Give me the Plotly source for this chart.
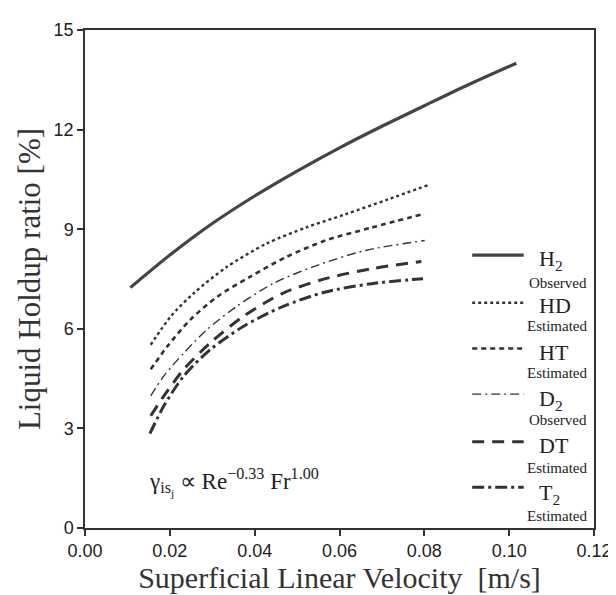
import plotly.graph_objects as go

# ---- data ----
h2_x = [0.0107, 0.02, 0.03, 0.04, 0.05, 0.06, 0.07, 0.08, 0.09, 0.1017]
h2_y = [7.24, 8.22, 9.17, 10.0, 10.75, 11.45, 12.1, 12.72, 13.33, 14.00]

hd_x = [0.0155, 0.0202, 0.0256, 0.0334, 0.0427, 0.0521, 0.0614, 0.0715, 0.0809]
hd_y = [5.52, 6.37, 7.07, 7.86, 8.56, 9.05, 9.45, 9.90, 10.33]

ht_x = [0.0155, 0.0194, 0.0248, 0.0311, 0.0388, 0.0474, 0.0567, 0.0676, 0.0801]
ht_y = [4.78, 5.47, 6.27, 6.96, 7.56, 8.16, 8.66, 9.05, 9.47]

d2_x = [0.0155, 0.0186, 0.0233, 0.0287, 0.0357, 0.0443, 0.0536, 0.0661, 0.0801]
d2_y = [3.98, 4.58, 5.27, 5.97, 6.67, 7.36, 7.86, 8.36, 8.66]

dt_x = [0.0155, 0.0186, 0.0233, 0.0295, 0.0373, 0.0466, 0.0567, 0.0676, 0.0793]
dt_y = [3.38, 3.98, 4.78, 5.57, 6.37, 7.07, 7.51, 7.81, 8.03]

t2_x = [0.0153, 0.0186, 0.0233, 0.0295, 0.0373, 0.0466, 0.0567, 0.0676, 0.0797]
t2_y = [2.84, 3.68, 4.58, 5.37, 6.07, 6.67, 7.11, 7.36, 7.51]

x_ticks = [0.00, 0.02, 0.04, 0.06, 0.08, 0.10, 0.12]
x_tick_labels = ["0.00", "0.02", "0.04", "0.06", "0.08", "0.10", "0.12"]
y_ticks = [0, 3, 6, 9, 12, 15]

legend_names = ["H<sub>2</sub>", "HD", "HT", "D<sub>2</sub>", "DT", "T<sub>2</sub>"]
legend_notes = ["Observed", "Estimated", "Estimated", "Observed", "Estimated", "Estimated"]

# ---- styles ----
W, H = 616, 595
ML, MR, MT, MB = 77, 25, 18, 75
styles = [
    dict(color="#444444", width=3.2, dash="solid"),
    dict(color="#333333", width=2.4, dash="dot"),
    dict(color="#333333", width=2.6, dash="5px,4px"),
    dict(color="#333333", width=1.4, dash="9px,4px,2px,4px"),
    dict(color="#333333", width=3.0, dash="12px,8px"),
    dict(color="#333333", width=3.0, dash="12px,4px,3px,4px"),
]
series = [(h2_x, h2_y), (hd_x, hd_y), (ht_x, ht_y), (d2_x, d2_y), (dt_x, dt_y), (t2_x, t2_y)]

fig = go.Figure()
for (xs, ys), st, nm in zip(series, styles, legend_names):
    fig.add_trace(go.Scatter(x=xs, y=ys, mode="lines", line=dict(shape="spline", smoothing=0.8, **st),
                             name=nm, showlegend=False))

pw = W - ML - MR
ph = H - MT - MB


def px(xp):
    return (xp - ML) / pw


def py(yp):
    return (H - MB - yp) / ph


serif = "Liberation Serif, Times New Roman, serif"
sans = "Liberation Sans, Arial, sans-serif"

line_y = [245, 293, 339, 385, 433, 479]
name_y = [250, 296, 343, 391, 437, 486]
note_y = [273, 316, 364, 411, 460, 508]

shapes = []
annotations = []
for i in range(6):
    st = styles[i]
    shapes.append(dict(type="line", xref="paper", yref="paper",
                       x0=px(468), x1=px(520), y0=py(line_y[i]), y1=py(line_y[i]),
                       line=dict(color=st["color"], width=st["width"], dash=st["dash"])))
    annotations.append(dict(xref="paper", yref="paper", x=px(533), y=py(name_y[i]),
                            xanchor="left", yanchor="middle", showarrow=False,
                            text=legend_names[i], font=dict(family=serif, size=22, color="#222")))
    annotations.append(dict(xref="paper", yref="paper", x=px(586), y=py(note_y[i]),
                            xanchor="right", yanchor="middle", showarrow=False,
                            text=legend_notes[i], font=dict(family=serif, size=15, color="#222")))

annotations.append(dict(xref="paper", yref="paper", x=px(140), y=py(474),
                        xanchor="left", yanchor="middle", showarrow=False,
                        text="γ<sub>is<sub>j</sub></sub> ∝ Re<sup>−0.33</sup> Fr<sup>1.00</sup>",
                        font=dict(family=serif, size=23, color="#222")))

axis_common = dict(showgrid=False, zeroline=False, showline=True, linecolor="#333", linewidth=1.5,
                   mirror=True, ticks="outside", ticklen=6, tickwidth=1.5, tickcolor="#333",
                   tickfont=dict(family=sans, size=18, color="#222"))

fig.update_layout(
    width=W, height=H,
    margin=dict(l=ML, r=MR, t=MT, b=MB),
    paper_bgcolor="white", plot_bgcolor="white",
    xaxis=dict(range=[0, 0.12], tickvals=x_ticks, ticktext=x_tick_labels,
               title=dict(text="Superficial Linear Velocity  [m/s]", standoff=6,
                          font=dict(family=serif, size=30, color="#333")),
               **axis_common),
    yaxis=dict(range=[0, 15], tickvals=y_ticks,
               title=dict(text="Liquid Holdup ratio [%]", standoff=4,
                          font=dict(family=serif, size=31, color="#333")),
               **axis_common),
    shapes=shapes,
    annotations=annotations,
    showlegend=False,
)

fig.write_html("out.html")
